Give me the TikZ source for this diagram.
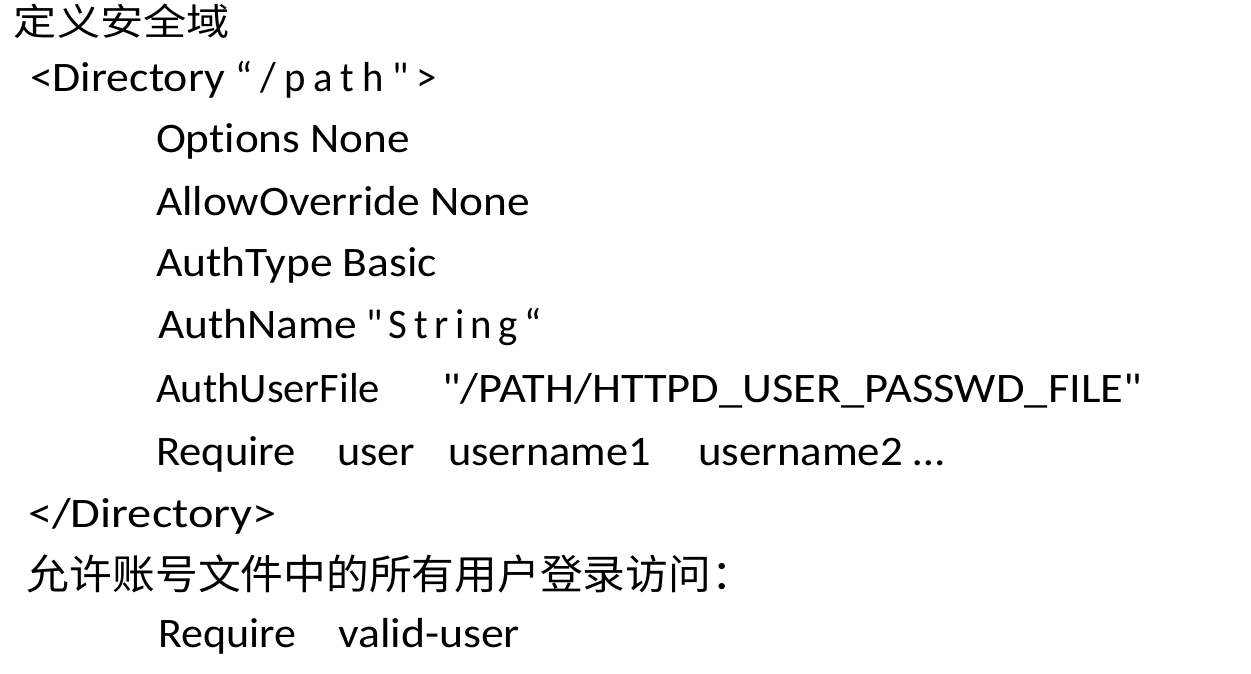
\documentclass[tikz,border=0pt]{standalone}
\usepackage{graphicx}
\usepackage{fontspec}
\newfontfamily\calib{Carlito}[Ligatures={NoCommon}]
\newfontfamily\cjk{Noto Sans CJK SC}
\newcommand\fitw[2]{\resizebox{#1pt}{\height}{#2}}
\begin{document}
\begin{tikzpicture}[x=1pt,y=1pt,
  txt/.style={anchor=base west,inner sep=0pt,outer sep=0pt,font=\fontsize{42}{42}\selectfont\calib},
  cjktxt/.style={anchor=base west,inner sep=0pt,outer sep=0pt,font=\fontsize{41}{41}\selectfont\cjk}]
\fill[white] (0,0) rectangle (1251,-674);
\useasboundingbox (0,0) rectangle (1251,-674);
% title
\node[cjktxt,font=\fontsize{37}{37}\selectfont\cjk] (title) at (14,-36) {\fitw{216}{定义安全域}};
% <Directory "/path">
\node[txt] (dirA) at (30,-92) {\fitw{195}{<Directory}};
\node[txt] (dirB) at (235,-92) {\fitw{202}{\addfontfeatures{LetterSpace=20}“/path">}};
% options
\node[txt] (opt) at (156,-153) {\fitw{254}{Options None}};
\node[txt] (allow) at (156,-215) {\fitw{374}{AllowOverride None}};
\node[txt] (atype) at (156,-276) {\fitw{281}{AuthType Basic}};
% AuthName
\node[txt] (anameA) at (158,-338) {\fitw{199}{AuthName}};
\node[txt] (anameB) at (366,-338) {\fitw{176}{\addfontfeatures{LetterSpace=16}"String“}};
% AuthUserFile
\node[txt] (afileA) at (156,-402) {\fitw{224}{AuthUserFile}};
\node[txt] (afileB) at (442,-402) {\fitw{700}{"/PATH/HTTPD\_USER\_PASSWD\_FILE"}};
% Require user ...
\node[txt] (reqA) at (156,-465) {\fitw{140}{Require}};
\node[txt] (reqB) at (337,-465) {\fitw{78}{user}};
\node[txt] (reqC) at (448,-465) {\fitw{203}{username1}};
\node[txt] (reqD) at (698,-465) {\fitw{246}{username2 …}};
% </Directory>
\node[txt] (enddir) at (28,-527) {\fitw{249}{</Directory>}};
% Chinese line
\node[cjktxt] (allowall) at (27,-589) {\fitw{727}{允许账号文件中的所有用户登录访问：}};
% Require valid-user
\node[txt] (validA) at (158,-647) {\fitw{138}{Require}};
\node[txt] (validB) at (338,-647) {\fitw{182}{valid-user}};
\end{tikzpicture}
\end{document}
